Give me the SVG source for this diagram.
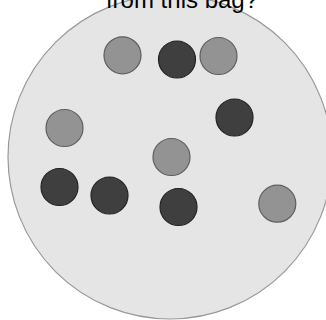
<svg xmlns="http://www.w3.org/2000/svg" width="326" height="320" viewBox="0 0 326 320">
<style>
.bag{fill:#e5e5e5;stroke:#999;stroke-width:1.2}
.g{fill:#939393;stroke:#5e5e5e;stroke-width:1.2}
.d{fill:#3f3f3f;stroke:#222;stroke-width:1.2}
.t{font-family:"Liberation Sans",Arial,sans-serif;font-size:24px;fill:#000}
</style>
<rect width="326" height="320" fill="#fff"/>
<g id="bag"><circle class="bag" cx="170" cy="157" r="162"/></g>
<text class="t" x="182" y="8" text-anchor="middle">from this bag?</text>
<g id="balls">
<circle class="g" cx="122.5" cy="55.3" r="18.5"/>
<circle class="d" cx="177" cy="59.5" r="18.5"/>
<circle class="g" cx="218.5" cy="56" r="18.5"/>
<circle class="d" cx="234.5" cy="117.5" r="18.5"/>
<circle class="g" cx="64.5" cy="128" r="18.5"/>
<circle class="g" cx="171.5" cy="157" r="18.5"/>
<circle class="d" cx="59.5" cy="187" r="18.5"/>
<circle class="d" cx="109.5" cy="195.5" r="18.5"/>
<circle class="d" cx="178.5" cy="207" r="18.5"/>
<circle class="g" cx="277.3" cy="203.7" r="18.5"/>
</g>
</svg>
